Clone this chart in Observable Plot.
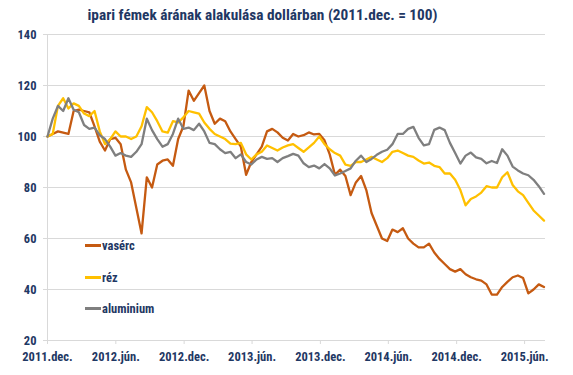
<!DOCTYPE html>
<html>
<head>
<meta charset="utf-8">
<script src="https://cdn.jsdelivr.net/npm/d3@7"></script>
<script src="https://cdn.jsdelivr.net/npm/@observablehq/plot@0.6"></script>
<style>
  html, body { margin: 0; padding: 0; background: #fff; }
  #wrap { position: relative; width: 573px; height: 375px; font-family: "Liberation Sans Narrow", "Roboto Condensed", Roboto, sans-serif; }
  #title { position: absolute; left: 0; top: 4px; width: 525px; height: 22px; line-height: 22px; text-align: center; font-weight: bold; font-size: 15.3px; color: #1F3864; }
  #chart { position: absolute; left: 0; top: 26px; }
  #legend { position: absolute; left: 0; top: 0; }
  .lg { position: absolute; left: 85px; height: 14px; font-weight: bold; font-size: 12.5px; color: #1F3864; white-space: nowrap; }
  .lg span.sw { display: inline-block; width: 16px; height: 3px; vertical-align: middle; margin-right: 1px; position: relative; top: -1px; }
</style>
</head>
<body>
<div id="wrap">
  <div id="title">ipari fémek árának alakulása dollárban (2011.dec. = 100)</div>
  <div id="chart"></div>
  <div id="legend"></div>
</div>
<script>
const seriesNames = ["vasérc", "réz", "aluminium"];
const seriesColors = ["#C55A11", "#FFC000", "#7F7F7F"];

const vaserc = [100,101,102,101.5,101,110,110.5,110,109.5,104,98,94.5,99,99.5,97,87,82,72,62,84,80,89,90.5,91,88.5,99,104,118,114,117,120,110,105,107,106,102,99,96,85,90,93,96,102,103,101.6,99.5,98.4,101,100,100.5,101.6,100.8,101,98.5,93,85,87,84.5,77,82,84.5,79,70,65,60,59,63.5,62.5,64,60,58,56.5,56.5,58,54.5,52,50,48,47,48,46,44.8,44,43.5,42,38,38,41,43,44.8,45.5,44.5,38.5,40,42,41];
const rez = [100,101,112,115,111,113,112,109,108,110,102,97,99,102,100,100,99,100,104,111.5,109.5,106,102,101.5,106,105.5,107.5,110,109.5,109,105.5,103,101,100,99,97.2,97,97.5,93,91,93,94,96.5,95.5,94.5,95.7,96.5,97,95.5,94,95.7,97.5,100,97,95,93.5,92.5,89,88.5,90,90,91,92,91,90,91.5,94,94.5,93.5,92.5,92,90.6,89.4,89.8,88.5,88,85.5,85.5,83,79,73,75.5,76.5,78,80.5,80,80,84,86,81,78.5,77,74,71,69,67];
const aluminium = [100,107,112,110,115,110.5,109.5,104.5,103,103.5,100.5,99,96,92.5,93.5,92.5,92,94,97,107,102.5,99,96,97,101,107,103,103.5,102.5,105,102,97.5,97,95,93.5,94,91.5,93,90,89,91,92,91.2,91.5,90,91.5,92.3,93.2,92.5,89.5,88,88.6,87.5,89.2,87.5,84.7,85.5,86.5,87.5,90.5,92.5,90,91.2,92.8,94,94.8,97,101,101,103,103.8,99.5,96.5,97,102.6,103.5,102.5,97.5,93.5,89.4,92.5,93.7,91.8,91.2,89.5,90.4,89.6,95,92.5,88.2,86.7,85.5,84.8,83,80.5,77.5];

const startDate = new Date(Date.UTC(2011, 11, 1));
const endDate = new Date(Date.UTC(2015, 6, 27));
const dates = vaserc.map((_, i) => d3.utcDay.offset(startDate, 14 * i));

const yTicks = [20, 40, 60, 80, 100, 120, 140];
const xTickDates = ["2011-12-01", "2012-06-01", "2012-12-01", "2013-06-01", "2013-12-01", "2014-06-01", "2014-12-01", "2015-06-01"].map(s => new Date(s + "T00:00:00Z"));
const xTickLabels = ["2011.dec.", "2012.jún.", "2012.dec.", "2013.jún.", "2013.dec.", "2014.jún.", "2014.dec.", "2015.jún."];
const labelMap = new Map(xTickDates.map((d, i) => [+d, xTickLabels[i]]));

const seriesValues = [vaserc, rez, aluminium];
const data = [];
seriesNames.forEach((name, s) => {
  seriesValues[s].forEach((v, i) => data.push({series: name, date: dates[i], value: v}));
});

const navy = "#1F3864";
const gridColor = "#D9D9D9";

const chart = Plot.plot({
  width: 573,
  height: 349,
  marginLeft: 47,
  marginRight: 28,
  marginTop: 8,
  marginBottom: 35,
  style: {fontFamily: '"Liberation Sans Narrow", "Roboto Condensed", Roboto, sans-serif', fontSize: "12.5px", fontWeight: "bold", background: "#fff"},
  x: {type: "utc", domain: [startDate, endDate]},
  y: {domain: [20, 140]},
  color: {domain: seriesNames, range: seriesColors},
  marks: [
    Plot.gridY(yTicks, {stroke: gridColor, strokeOpacity: 1, x1: startDate, x2: endDate}),
    Plot.ruleX([startDate], {stroke: gridColor, strokeOpacity: 1}),
    Plot.axisY(yTicks, {tickSize: 4, tickPadding: 7, stroke: gridColor, fill: navy, label: null}),
    Plot.axisX(xTickDates, {tickSize: 4, tickPadding: 8, stroke: gridColor, fill: navy, label: null, tickFormat: d => labelMap.get(+d)}),
    Plot.line(data, {x: "date", y: "value", z: "series", stroke: "series", strokeWidth: 2.3, strokeLinejoin: "round"})
  ]
});
document.getElementById("chart").appendChild(chart);

const legendTops = [238, 270, 301];
const legend = document.getElementById("legend");
seriesNames.forEach((name, i) => {
  const el = document.createElement("div");
  el.className = "lg";
  el.style.top = legendTops[i] + "px";
  el.innerHTML = `<span class="sw" style="background:${seriesColors[i]}"></span>${name}`;
  legend.appendChild(el);
});
</script>
</body>
</html>
